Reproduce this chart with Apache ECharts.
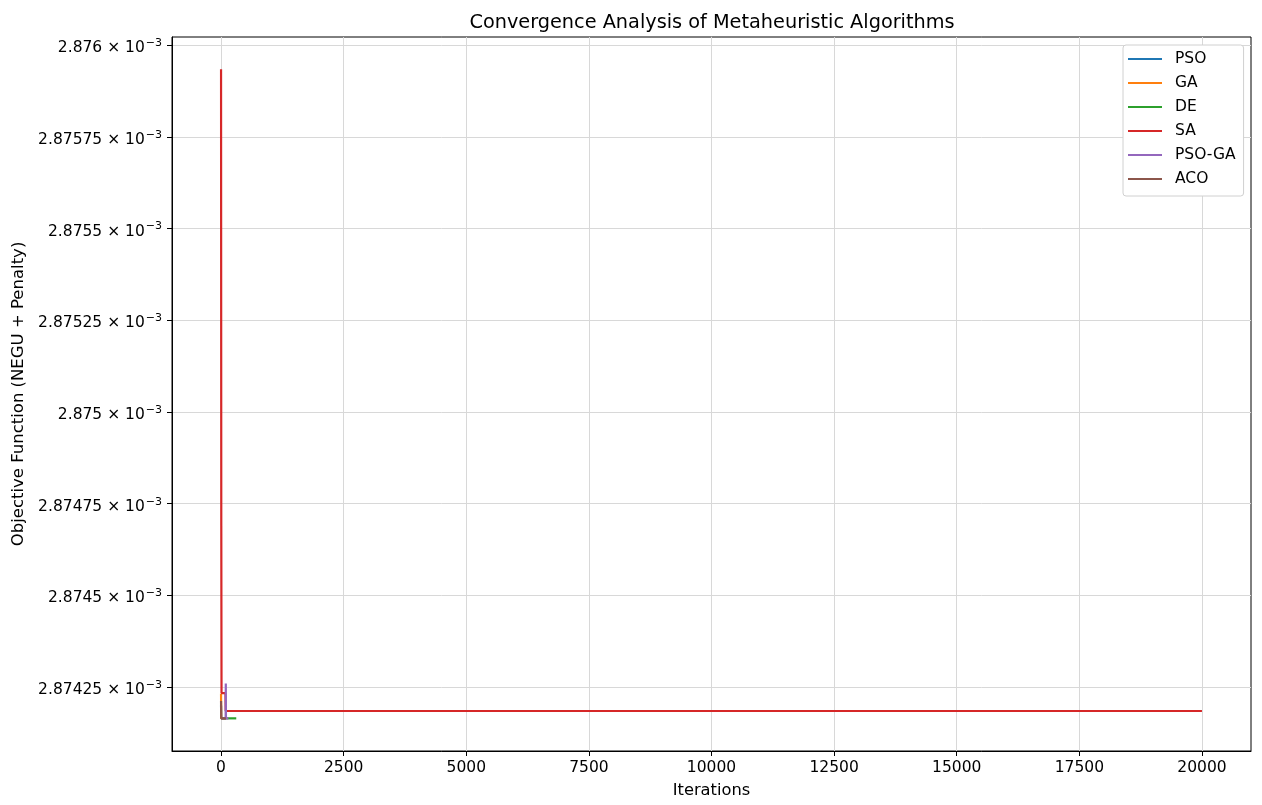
<!DOCTYPE html>
<html><head><meta charset="utf-8">
<script src="https://cdn.jsdelivr.net/npm/echarts@6/dist/echarts.min.js"></script>
<style>html,body{margin:0;padding:0;background:#fff}#c{width:1262px;height:805px}</style>
</head><body><div id="c"></div>
<script>
const seriesNames = ['PSO', 'GA', 'DE', 'SA', 'PSO-GA', 'ACO'];
const seriesColors = ['#1f77b4', '#ff7f0e', '#2ca02c', '#d62728', '#9467bd', '#8c564b'];

// iterations / objective values
const psoIter = [0, 5, 100];
const psoVal = [2.874200e-3, 2.874165e-3, 2.874165e-3];
const gaIter = [0, 3, 100];
const gaVal = [2.874232e-3, 2.874165e-3, 2.874165e-3];
const deIter = [0, 310];
const deVal = [2.874165e-3, 2.874165e-3];
const saIter = [0, 5, 10, 90, 95, 20000];
const saVal = [2.875934e-3, 2.874690e-3, 2.874234e-3, 2.874234e-3, 2.874185e-3, 2.874185e-3];
const psogaIter = [0, 94, 97, 100, 150];
const psogaVal = [2.874165e-3, 2.874165e-3, 2.874260e-3, 2.874165e-3, 2.874165e-3];
const acoIter = [0, 3, 100];
const acoVal = [2.874212e-3, 2.874165e-3, 2.874165e-3];

const xTickValues = [0, 2500, 5000, 7500, 10000, 12500, 15000, 17500, 20000];
const yTickValues = [2.87425e-3, 2.8745e-3, 2.87475e-3, 2.875e-3, 2.87525e-3, 2.8755e-3, 2.87575e-3, 2.876e-3];
const yTickLabels = ['2.87425', '2.8745', '2.87475', '2.875', '2.87525', '2.8755', '2.87575', '2.876'];

const allIter = [psoIter, gaIter, deIter, saIter, psogaIter, acoIter];
const allVal = [psoVal, gaVal, deVal, saVal, psogaVal, acoVal];

const FONT = 'DejaVu Sans';
const chart = echarts.init(document.getElementById('c'), null, {renderer: 'canvas'});

const series = seriesNames.map((n, i) => ({
  name: n,
  type: 'line',
  data: allIter[i].map((x, j) => [x, allVal[i][j]]),
  showSymbol: false,
  symbol: 'none',
  lineStyle: {color: seriesColors[i], width: 2.2},
  itemStyle: {color: seriesColors[i]},
  animation: false,
  silent: true,
  z: 2 + i
}));

chart.setOption({
  animation: false,
  backgroundColor: '#fff',
  title: {
    text: 'Convergence Analysis of Metaheuristic Algorithms',
    left: 707, top: 8, textAlign: 'center',
    textStyle: {fontFamily: FONT, fontSize: 19.3, fontWeight: 'normal', color: '#000'}
  },
  legend: {
    orient: 'vertical', left: 1123, top: 45,
    padding: [6, 8, 9, 5],
    itemWidth: 34, itemHeight: 14, itemGap: 8,
    backgroundColor: '#fff', borderColor: '#d0d0d0', borderWidth: 1, borderRadius: 3,
    icon: 'path://M0,0 L34,0 L34,2 L0,2 Z',
    textStyle: {fontFamily: FONT, fontSize: 15.5, color: '#000', padding: [0, 0, 0, 8]},
    data: seriesNames
  },
  grid: {left: 172, right: 11, top: 37, bottom: 54, show: true, borderColor: '#000', borderWidth: 1, containLabel: false, outerBoundsMode: 'none'},
  xAxis: {
    type: 'value', min: -1000, max: 21000,
    name: 'Iterations', nameLocation: 'middle', nameGap: 32,
    nameTextStyle: {fontFamily: FONT, fontSize: 16.3, color: '#000'},
    axisLine: {show: true, onZero: false, lineStyle: {color: '#000', width: 1}},
    axisTick: {show: true, length: 5, lineStyle: {color: '#000'}, customValues: xTickValues},
    axisLabel: {fontFamily: FONT, fontSize: 15.5, color: '#000', margin: 9, customValues: xTickValues,
      formatter: function (v) { return String(v); }},
    splitLine: {show: true, lineStyle: {color: '#d8d8d8', width: 1}}
  },
  yAxis: {
    type: 'value', min: 2.874076e-3, max: 2.876022e-3,
    name: 'Objective Function (NEGU + Penalty)', nameLocation: 'middle', nameGap: 132, nameRotate: 90,
    nameTextStyle: {fontFamily: FONT, fontSize: 16.5, color: '#000'},
    axisLine: {show: true, onZero: false, lineStyle: {color: '#000', width: 1}},
    axisTick: {show: true, length: 5, lineStyle: {color: '#000'}, customValues: yTickValues},
    axisLabel: {
      fontFamily: FONT, fontSize: 15.5, color: '#000', margin: 10, customValues: yTickValues,
      formatter: function (v) {
        let idx = -1;
        yTickValues.forEach((t, k) => { if (Math.abs(t - v) < 1e-11) idx = k; });
        if (idx < 0) return '';
        return '{m|' + yTickLabels[idx] + ' × 10}{s|−3}';
      },
      rich: {
        m: {fontFamily: FONT, fontSize: 15.5, color: '#000', padding: [6, 0, 0, 0]},
        s: {fontFamily: FONT, fontSize: 11, color: '#000', padding: [0, 0, 4, 1]}
      }
    },
    splitLine: {show: true, lineStyle: {color: '#d8d8d8', width: 1}}
  },
  series: series
});
</script>
</body></html>
